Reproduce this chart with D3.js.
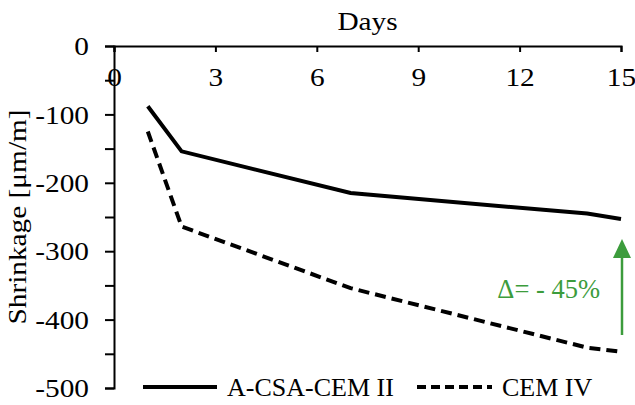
<!DOCTYPE html>
<html lang="en">
<head>
<meta charset="UTF-8">
<title>Shrinkage</title>
<style>
  body { margin: 0; background: #fff; }
</style>
</head>
<body>
<script src="https://d3js.org/d3.v7.min.js"></script>
<script>
const days = [1, 2, 7, 14, 15];
const csaCem2 = [-88, -154, -215, -245, -253];
const cem4 = [-125, -264, -354, -441, -447];
const xTicks = [0, 3, 6, 9, 12, 15];
const yTicks = [0, -100, -200, -300, -400, -500];
const seriesNames = ['A-CSA-CEM II', 'CEM IV'];

const width = 635, height = 405;
const serif = '"Liberation Serif", "Times New Roman", Times, serif';
const fs = 25.5, sx = 1.15;   // font size and horizontal stretch of the labels

const svg = d3.select('body').append('svg')
  .attr('width', width).attr('height', height)
  .style('font-family', serif);

const x = d3.scaleLinear().domain([0, 15]).range([114, 621]);
const y = d3.scaleLinear().domain([0, -500]).range([46, 388]);

// y axis, minor ticks every 50
const yAxis = d3.axisLeft(y)
  .tickValues(d3.range(0, -501, -50))
  .tickSize(9)
  .tickFormat(d => yTicks.includes(d) ? d : '');
const gy = svg.append('g').attr('transform', `translate(${x(0)},0)`).call(yAxis);
gy.attr('font-family', serif).attr('font-size', fs);
gy.select('.domain').attr('stroke', '#000').attr('stroke-width', 2);
gy.selectAll('.tick line').attr('stroke', '#000').attr('stroke-width', 2);
gy.selectAll('.tick text')
  .attr('x', -25 / sx).attr('dy', '0.34em')
  .attr('transform', `scale(${sx},1)`)
  .style('font-family', serif)
  .style('font-size', fs + 'px');

// x axis sits on y = 0, ticks point down
const xAxis = d3.axisBottom(x).tickValues(xTicks).tickSize(6).tickFormat(d => d);
const gx = svg.append('g').attr('transform', `translate(0,${y(0)})`).call(xAxis);
gx.attr('font-family', serif).attr('font-size', fs);
gx.select('.domain').attr('stroke', '#000').attr('stroke-width', 2);
gx.selectAll('.tick line').attr('stroke', '#000').attr('stroke-width', 2);
gx.selectAll('.tick text')
  .attr('y', 40).attr('dy', null)
  .attr('transform', `scale(${sx},1)`)
  .style('font-family', serif)
  .style('font-size', fs + 'px');

svg.append('text')
  .attr('transform', `translate(${(x(0) + x(15)) / 2},30) scale(${sx},1)`)
  .attr('text-anchor', 'middle')
  .style('font-family', serif).style('font-size', fs + 'px')
  .text('Days');

svg.append('text')
  .attr('transform', `translate(26,${(y(0) + y(-500)) / 2}) rotate(-90) scale(${sx},1)`)
  .attr('text-anchor', 'middle')
  .style('font-family', serif).style('font-size', fs + 'px')
  .text('Shrinkage [μm/m]');

const line = d3.line().x(d => x(d[0])).y(d => y(d[1]));

svg.append('path').datum(days.map((d, i) => [d, csaCem2[i]]))
  .attr('d', line).attr('fill', 'none').attr('stroke', '#000').attr('stroke-width', 4);
svg.append('path').datum(days.map((d, i) => [d, cem4[i]]))
  .attr('d', line).attr('fill', 'none').attr('stroke', '#000').attr('stroke-width', 4)
  .attr('stroke-dasharray', '11,6');

// annotation arrow
const green = '#3c9c3c';
const ax = 622;
svg.append('line').attr('x1', ax).attr('x2', ax).attr('y1', 335).attr('y2', 255)
  .attr('stroke', green).attr('stroke-width', 2.5);
svg.append('path').attr('d', `M${ax},239 L${ax - 9},258 L${ax + 9},258 Z`).attr('fill', green);
svg.append('text').attr('x', 600).attr('y', 298).attr('text-anchor', 'end')
  .style('font-family', serif).style('font-size', '26.5px').style('fill', green)
  .text('Δ= - 45%');

// legend
const leg = svg.append('g');
leg.append('line').attr('x1', 143).attr('x2', 217).attr('y1', 387).attr('y2', 387)
  .attr('stroke', '#000').attr('stroke-width', 4);
leg.append('text').attr('x', 227).attr('y', 396)
  .style('font-family', serif).style('font-size', '26px').text(seriesNames[0]);
leg.append('line').attr('x1', 417).attr('x2', 492).attr('y1', 387).attr('y2', 387)
  .attr('stroke', '#000').attr('stroke-width', 4).attr('stroke-dasharray', '9,5');
leg.append('text').attr('x', 502).attr('y', 396)
  .style('font-family', serif).style('font-size', '26px').text(seriesNames[1]);
</script>
</body>
</html>
